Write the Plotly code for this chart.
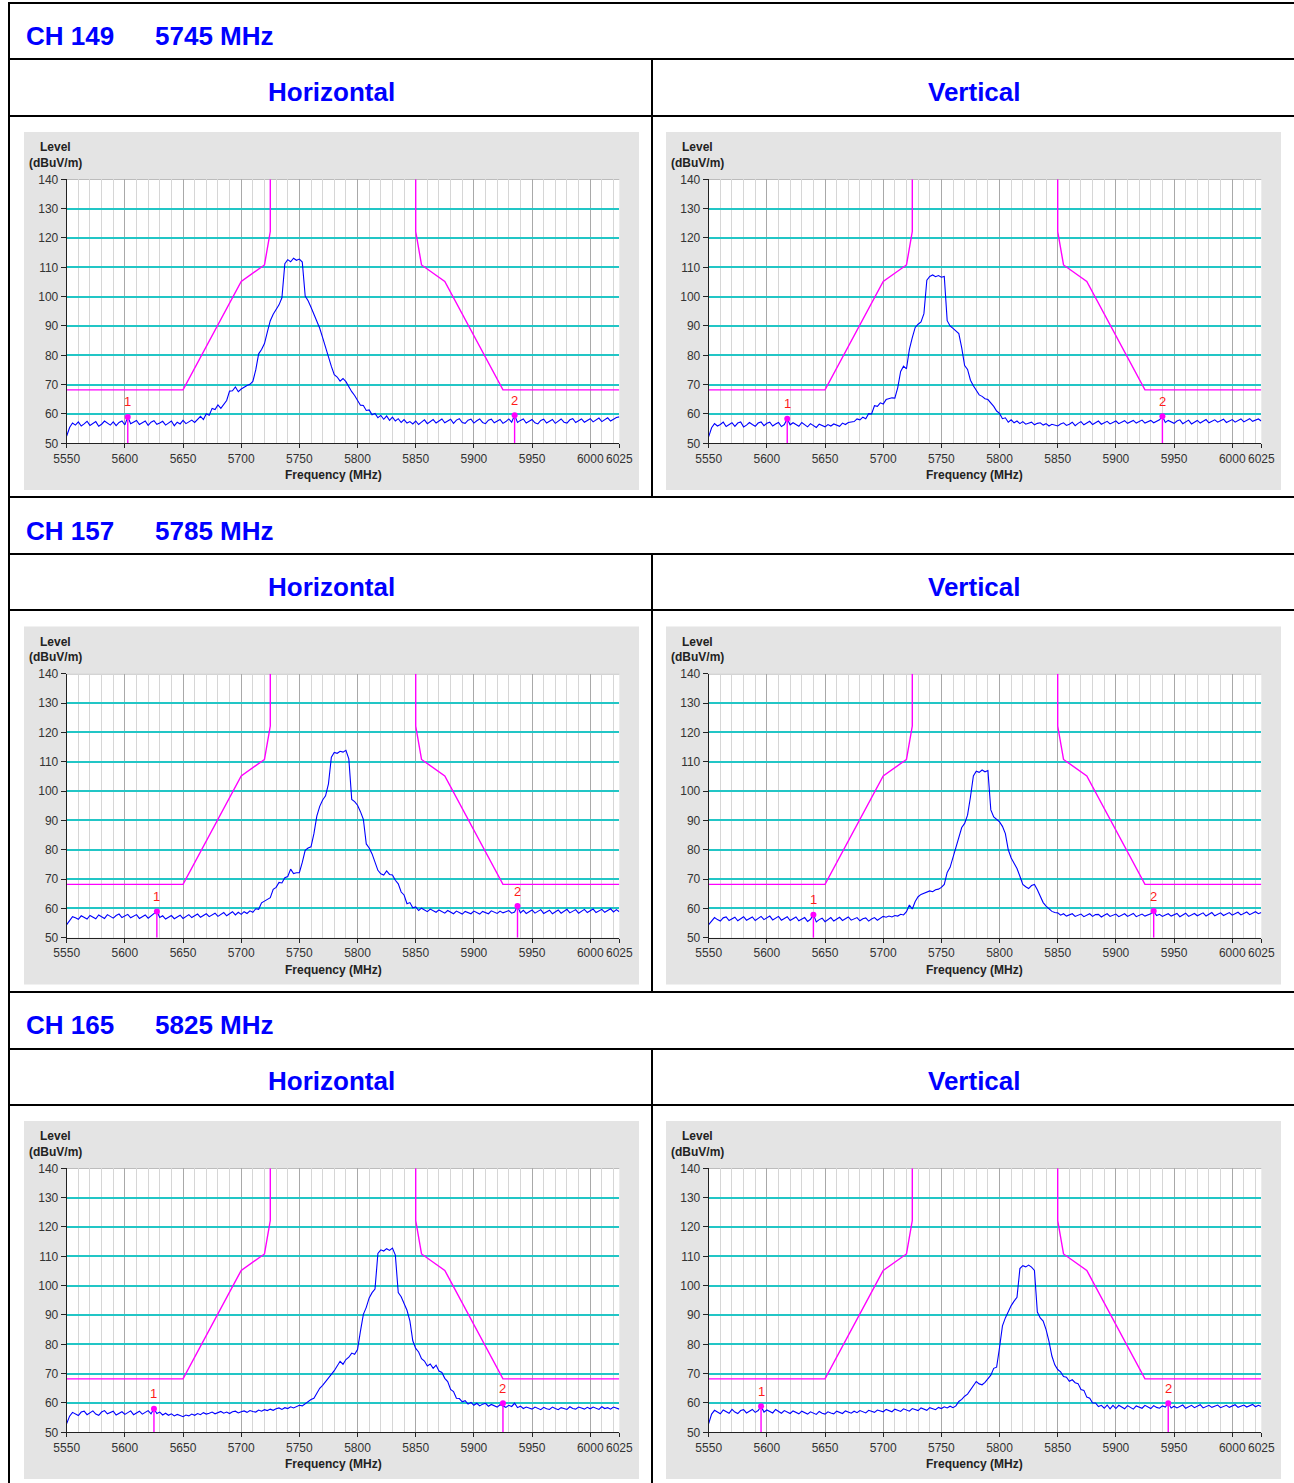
import plotly.graph_objects as go

W, H = 1294, 1483
FONT = "Arial, 'Liberation Sans', sans-serif"

# ---------------- data ----------------
FREQ_START = 5550.0
FREQ_STEP = 2.5
FREQ = [FREQ_START + FREQ_STEP * i for i in range(191)]

CHANNELS = ["CH 149", "CH 157", "CH 165"]
CENTERS = ["5745 MHz", "5785 MHz", "5825 MHz"]
POLARIZATIONS = ["Horizontal", "Vertical"]

X_TICKS = [5550, 5600, 5650, 5700, 5750, 5800, 5850, 5900, 5950, 6000, 6025]
Y_TICKS = [50, 60, 70, 80, 90, 100, 110, 120, 130, 140]

MASK_FREQ = [5550, 5650, 5700, 5720, 5725, 5725, None, 5850, 5850, 5855, 5875, 5925, 6025]
MASK_LEVEL = [68.2, 68.2, 105.2, 110.8, 122.2, 140, None, 140, 122.2, 110.8, 105.2, 68.2, 68.2]

CH149_H = [
    52.5, 55.4, 56.9, 56.2, 57.3, 55.9, 56.6, 57.5, 56.1, 56.8, 57.4, 55.8, 56.5, 57.6, 56.9, 56.2, 57.3, 56.0, 57.1, 57.6,
    56.3, 59.0, 56.7, 57.4, 57.8, 56.4, 56.9, 57.6, 56.1, 57.2, 57.7, 56.5, 56.9, 57.5, 56.2, 56.8, 57.6, 56.0, 57.2, 56.6,
    57.8, 56.7, 57.3, 57.9, 57.1, 58.3, 59.2, 58.1, 60.1, 59.6, 61.9, 61.5, 63.1, 61.9, 63.3, 64.6, 67.8, 67.9, 69.2, 67.6,
    68.5, 69.2, 69.7, 70.1, 71.1, 75.0, 80.5, 82.0, 84.0, 88.0, 91.8, 94.0, 95.6, 97.2, 99.6, 111.2, 112.6, 111.9, 113.1, 112.4,
    112.8, 111.8, 100.2, 98.6, 96.4, 94.2, 92.0, 89.2, 86.0, 82.6, 79.5, 76.2, 73.4, 72.6, 71.2, 72.1, 71.0, 69.2, 67.6, 66.3,
    64.8, 63.0, 62.9, 61.2, 61.4, 59.7, 60.2, 58.7, 59.5, 58.2, 59.3, 57.8, 58.9, 57.6, 58.4, 57.1, 58.1, 56.9, 57.4, 56.6,
    57.6, 56.4, 57.2, 58.0, 56.7, 57.4, 58.1, 56.9, 57.7, 58.3, 57.0, 57.5, 58.2, 56.8, 57.9, 58.4, 57.1, 56.8, 57.9, 58.2,
    56.9, 57.7, 58.3, 57.1, 56.7, 57.9, 58.2, 57.0, 57.6, 58.1, 56.8, 57.4, 58.3, 57.2, 59.6, 57.1, 57.8, 58.3, 56.9, 57.6,
    58.1, 57.0, 56.6, 57.8, 58.2, 56.9, 57.5, 58.1, 56.8, 57.7, 58.3, 57.2, 56.9, 58.0, 58.4, 57.1, 57.6, 58.3, 57.2, 57.9,
    58.4, 57.3, 57.9, 58.6, 57.4, 58.2, 58.7, 57.6, 58.3, 58.8, 59.0,
]

CH149_V = [
    52.3, 55.3, 56.7, 55.9, 56.4, 57.2, 55.7, 56.5, 57.0, 55.8, 56.9, 57.3, 55.6, 56.2, 57.1, 56.4, 55.8, 56.9, 57.3, 56.0,
    56.8, 57.2, 55.9, 56.6, 57.1, 55.7, 56.4, 58.4, 56.3, 57.0, 56.5, 55.8, 57.1, 56.2, 55.6, 56.7, 56.1, 55.4, 56.5, 56.0,
    55.6, 56.4, 55.9, 56.6, 56.2, 55.8, 56.9, 56.4, 57.1, 57.3, 57.4, 58.3, 58.0, 58.9, 58.4, 60.1, 60.0, 62.8, 62.6, 63.8,
    63.4, 64.9, 65.2, 65.5, 65.4, 69.0, 74.5, 76.3, 75.4, 82.0, 86.0, 89.5, 90.6, 91.4, 94.2, 105.6, 106.9, 107.4, 106.8, 107.2,
    106.6, 106.9, 91.8, 90.0, 89.2, 88.4, 87.4, 82.5, 76.5, 75.2, 71.5, 69.6, 68.2, 66.5, 66.0, 65.2, 64.9, 63.8, 62.6, 61.0,
    60.2, 58.4, 58.7, 57.2, 58.0, 57.0, 57.6, 56.7, 57.4, 56.5, 56.9, 57.2, 56.3, 56.8, 57.0, 56.2, 56.7, 55.9, 56.5, 56.3,
    55.9, 56.6, 57.0, 56.1, 56.5, 57.2, 56.0, 56.8, 57.4, 56.3, 56.9, 57.5, 56.4, 57.1, 57.6, 56.5, 57.0, 57.5, 56.6, 57.2,
    57.6, 56.7, 57.2, 57.7, 56.8, 57.3, 57.8, 56.9, 57.5, 57.9, 56.9, 57.4, 57.8, 57.0, 57.6, 58.0, 59.2, 57.1, 57.8, 57.3,
    56.8, 57.6, 58.0, 56.7, 57.3, 57.9, 56.6, 57.2, 57.8, 56.9, 57.5, 58.1, 57.0, 57.4, 58.0, 57.2, 57.7, 58.2, 57.1, 57.6,
    58.1, 57.2, 57.8, 58.3, 57.3, 57.9, 58.4, 57.5, 57.9, 58.3, 57.6,
]

CH157_H = [
    54.5, 56.0, 57.2, 56.8, 56.3, 57.5, 56.9, 56.4, 57.6, 57.1, 56.5, 57.8, 57.2, 56.6, 57.9, 57.3, 56.7, 57.6, 58.1, 56.9,
    57.4, 58.0, 56.8, 57.3, 57.9, 56.6, 57.2, 57.8, 56.7, 57.4, 58.0, 59.0, 56.9, 57.5, 56.4, 57.0, 57.6, 56.5, 57.1, 57.7,
    56.6, 57.3, 57.9, 56.9, 57.6, 58.1, 57.0, 57.7, 58.2, 57.2, 57.9, 58.4, 57.3, 58.0, 58.6, 57.5, 58.2, 58.9, 57.8, 58.7,
    58.0, 58.9, 58.3, 59.2, 58.7, 59.9, 59.7, 61.9, 62.5, 63.1, 63.7, 66.5, 67.2, 68.9, 68.7, 70.5, 70.9, 73.4, 71.9, 72.2,
    72.2, 75.7, 79.8, 80.6, 81.0, 85.5, 91.5, 94.8, 97.0, 98.4, 102.5, 111.6, 113.2, 112.9, 113.6, 113.3, 113.9, 111.0, 97.2, 96.4,
    95.2, 93.0, 90.4, 82.0, 80.6, 78.6, 75.7, 73.0, 71.8, 71.4, 72.8, 71.6, 71.4, 69.6, 68.4, 65.6, 64.6, 61.6, 62.0, 60.2,
    60.5, 59.3, 60.1, 59.6, 58.9, 59.8, 59.2, 58.7, 59.5, 58.9, 58.4, 59.3, 58.7, 58.2, 59.1, 58.6, 58.1, 59.0, 58.5, 58.2,
    59.1, 58.5, 58.1, 59.0, 58.6, 58.2, 59.2, 58.7, 58.3, 59.1, 58.5, 58.9, 59.3, 58.4, 58.8, 60.8, 58.5, 59.4, 58.3, 58.9,
    59.5, 58.4, 58.9, 59.6, 58.3, 59.0, 59.4, 58.2, 58.9, 59.5, 58.4, 59.1, 59.7, 58.5, 59.0, 59.6, 58.4, 59.2, 59.7, 58.6,
    59.3, 59.8, 58.6, 59.2, 59.7, 58.7, 59.4, 59.9, 58.8, 59.6, 58.9,
]

CH157_V = [
    54.5, 55.6, 56.9, 56.2, 55.7, 56.8, 57.1, 55.9, 56.4, 57.0, 55.8, 56.6, 57.2, 56.0, 56.5, 57.1, 55.9, 56.7, 57.3, 56.2,
    56.7, 57.4, 56.1, 56.8, 57.3, 56.0, 56.6, 57.2, 55.9, 56.5, 57.1, 55.8, 56.4, 56.9, 55.6, 56.3, 57.9, 55.4, 56.2, 56.7,
    55.5, 56.3, 56.9, 55.7, 56.5, 57.0, 55.9, 56.6, 57.1, 56.0, 56.4, 56.9, 55.8, 56.5, 56.8, 55.7, 56.4, 56.9, 56.0, 56.7,
    57.3, 57.0, 57.4, 57.1, 57.6, 57.4, 58.0, 57.8, 58.9, 61.2, 59.8, 62.4, 64.0, 64.8, 65.2, 65.4, 66.0, 65.7, 66.4, 66.6,
    67.2, 68.2, 72.3, 74.0, 77.5, 80.8, 85.0, 87.6, 89.0, 91.8, 98.0, 105.2, 106.8, 106.4, 107.2, 106.6, 107.0, 93.6, 91.2, 90.4,
    89.5, 88.0, 85.5, 80.0, 77.2, 75.4, 73.6, 71.0, 68.2, 67.4, 66.8, 67.8, 68.2, 66.4, 64.0, 62.0, 60.8, 59.8, 59.0, 58.6,
    58.5, 57.7, 58.2, 57.4, 57.9, 58.2, 57.3, 57.8, 58.1, 57.2, 57.6, 58.2, 57.3, 57.9, 58.0, 57.1, 57.7, 58.2, 57.3, 57.8,
    58.1, 57.2, 57.7, 58.2, 57.3, 57.9, 58.3, 57.2, 57.6, 58.1, 57.4, 57.9, 58.2, 59.1, 57.6, 58.0, 57.3, 57.8, 58.2, 57.4,
    57.8, 58.3, 57.2, 57.9, 58.4, 57.3, 57.7, 58.3, 57.5, 57.9, 58.5, 57.4, 58.0, 58.6, 57.5, 58.1, 58.5, 57.6, 58.2, 58.6,
    57.7, 58.3, 58.7, 57.8, 58.4, 58.8, 57.9, 58.5, 58.9, 58.2, 58.6,
]

CH165_H = [
    53.0, 55.5, 56.8, 56.1, 55.7, 56.9, 57.2, 56.0, 56.6, 57.3, 56.2, 55.8, 56.9, 57.4, 56.3, 56.8, 57.2, 55.9, 56.6, 57.0,
    56.1, 56.7, 57.3, 56.0, 56.6, 57.2, 56.2, 56.9, 57.4, 56.3, 58.0, 56.4, 56.9, 55.9, 56.5, 55.8, 56.3, 55.6, 56.1, 55.7,
    55.3, 55.9, 55.6, 56.2, 55.8, 56.4, 56.0, 56.7, 56.2, 56.5, 56.9, 56.3, 56.8, 57.1, 56.5, 56.9, 56.4, 57.0, 57.2, 56.6,
    57.0, 57.3, 56.8, 57.4, 57.1, 56.9, 57.6, 57.2, 57.7, 57.4, 57.9, 57.5, 58.0, 58.3, 57.8, 58.4, 58.1, 58.7, 58.3, 58.9,
    59.2, 59.0, 59.8, 60.4, 61.2, 61.6, 63.2, 65.0, 66.0, 67.3, 68.2, 69.6, 71.0, 72.6, 74.2, 73.2, 74.8, 75.6, 77.0, 76.6,
    78.2, 84.5, 90.2, 92.6, 95.8, 97.6, 98.8, 111.0, 112.2, 111.8, 112.6, 112.0, 112.8, 110.4, 97.6, 96.2, 93.8, 91.6, 88.0, 81.2,
    78.6, 77.4, 75.1, 74.3, 72.6, 73.3, 71.8, 72.9, 70.9, 70.4, 68.4, 67.3, 64.6, 63.9, 61.6, 61.5, 60.4, 60.8, 59.6, 60.2,
    59.2, 59.9, 59.0, 59.6, 59.9, 58.9, 59.5, 59.1, 58.6, 59.4, 59.0, 58.5, 59.2, 58.8, 59.9, 58.4, 58.9, 58.1, 58.6, 58.3,
    57.9, 58.6, 58.2, 57.7, 58.5, 58.0, 57.8, 58.6, 58.1, 57.7, 58.4, 58.2, 57.8, 58.7, 58.1, 57.9, 58.6, 58.3, 57.9, 58.5,
    58.0, 58.6, 58.2, 57.8, 58.7, 58.1, 58.4, 57.9, 58.6, 58.3, 57.9,
]

CH165_V = [
    53.0, 56.2, 57.5, 56.8, 56.3, 57.6, 57.0, 56.5, 57.8, 56.9, 56.4, 57.4, 57.7, 56.6, 57.2, 57.8, 56.8, 57.4, 58.9, 56.9,
    57.6, 57.1, 56.6, 57.8, 57.2, 56.5, 57.4, 57.0, 56.4, 57.3, 56.8, 56.3, 57.2, 56.7, 56.2, 57.0, 56.6, 56.1, 57.1, 56.5,
    56.2, 57.0, 56.6, 56.3, 57.2, 56.8, 56.4, 57.3, 56.9, 56.5, 57.2, 56.7, 57.4, 57.0, 56.6, 57.5, 57.1, 56.8, 57.6, 57.2,
    57.0, 57.8, 57.3, 57.0, 57.9, 57.4, 57.1, 58.0, 57.6, 57.2, 58.1, 57.7, 57.4, 58.3, 57.8, 57.5, 58.4, 58.0, 57.7, 58.5,
    58.1, 58.7, 58.3, 58.9, 58.4, 59.0, 60.5, 61.2, 62.3, 63.0, 64.5, 66.0, 67.3, 66.5, 66.2, 67.0, 68.4, 69.5, 71.8, 72.2,
    78.9, 86.3, 89.0, 91.4, 93.2, 94.7, 96.0, 105.8, 106.8, 106.4, 107.0, 106.3, 105.2, 91.0, 89.0, 87.9, 85.0, 81.0, 76.0, 73.0,
    71.4, 70.6, 69.0, 68.8, 67.4, 67.9, 66.9, 66.6, 64.6, 64.3, 62.0, 61.6, 60.0, 60.0, 58.8, 59.2, 58.2, 59.3, 58.0, 59.2,
    58.1, 59.2, 58.6, 58.0, 59.1, 58.5, 57.9, 59.0, 58.6, 58.2, 59.2, 58.7, 58.1, 59.1, 58.5, 58.2, 59.0, 58.6, 59.9, 58.3,
    58.9, 58.3, 58.8, 59.3, 58.2, 58.7, 59.2, 58.4, 58.9, 59.4, 58.3, 58.8, 59.2, 58.5, 58.9, 59.3, 58.4, 58.8, 59.2, 58.5,
    58.9, 59.4, 58.5, 59.0, 59.3, 58.6, 59.1, 59.5, 58.7, 59.2, 58.8,
]

# panel order: 149H, 149V, 157H, 157V, 165H, 165V
LEVELS = [CH149_H, CH149_V, CH157_H, CH157_V, CH165_H, CH165_V]
M1_FREQ = [5602.5, 5617.5, 5627.5, 5640.0, 5625.0, 5595.0]
M1_LEVEL = [59.0, 58.4, 59.0, 57.9, 58.0, 58.9]
M2_FREQ = [5935.0, 5940.0, 5937.5, 5932.5, 5925.0, 5945.0]
M2_LEVEL = [59.6, 59.2, 60.8, 59.1, 59.9, 59.9]

# ---------------- geometry (pixels) ----------------
DX = [0, 642]
DY = [0, 494.5, 989]
PLOT_L, PLOT_R, PLOT_T, PLOT_B = 66.7, 619.3, 179.3, 443.3
PANEL_L, PANEL_R, PANEL_T, PANEL_B = 24, 639, 132, 490
TABLE_L, COL_X = 9, 652
HLINES = [3, 59, 116, 497, 554, 610, 992, 1049, 1105]
HEAD_DY = [0, 495, 989]


def fx(x):
    return x / W


def fy(y):
    return 1 - y / H


fig = go.Figure()
shapes = []
annotations = []
layout = {}

BLUE = "#0000ff"
MAGENTA = "#ff00ff"

for r in range(3):
    for c in range(2):
        k = r * 2 + c + 1
        i = k - 1
        xs = "x" if k == 1 else f"x{k}"
        ys = "y" if k == 1 else f"y{k}"
        xa = "xaxis" if k == 1 else f"xaxis{k}"
        ya = "yaxis" if k == 1 else f"yaxis{k}"
        dx, dy = DX[c], DY[r]

        # gray panel and white plot area
        shapes.append(dict(type="rect", xref="paper", yref="paper", layer="below",
                           x0=fx(PANEL_L + dx), x1=fx(PANEL_R + dx), y0=fy(PANEL_B + dy), y1=fy(PANEL_T + dy),
                           fillcolor="#e4e4e4", line=dict(width=0)))
        shapes.append(dict(type="rect", xref="paper", yref="paper", layer="below",
                           x0=fx(PLOT_L + dx), x1=fx(PLOT_R + dx), y0=fy(PLOT_B + dy), y1=fy(PLOT_T + dy),
                           fillcolor="white", line=dict(width=0)))

        layout[xa] = dict(
            domain=[fx(PLOT_L + dx), fx(PLOT_R + dx)], range=[5550, 6025], anchor=ys,
            automargin=False,
            tickmode="array", tickvals=X_TICKS, ticktext=[str(v) for v in X_TICKS], tickangle=0,
            showgrid=True, gridcolor="#a9a9a9", gridwidth=1.2,
            minor=dict(tickmode="linear", tick0=5550, dtick=10, showgrid=True,
                       gridcolor="#d6d6d6", gridwidth=1.1, ticks=""),
            showline=True, linecolor="#222222", linewidth=1,
            ticks="outside", ticklen=4, tickcolor="#222222", tickwidth=1,
            tickfont=dict(family=FONT, size=12, color="#333333"),
            zeroline=False, fixedrange=True)
        layout[ya] = dict(
            domain=[fy(PLOT_B + dy), fy(PLOT_T + dy)], range=[50, 140], anchor=xs,
            automargin=False,
            tickmode="array", tickvals=Y_TICKS, ticktext=[str(v) for v in Y_TICKS],
            showgrid=True, gridcolor="#22c6c6", gridwidth=1.5,
            showline=True, linecolor="#222222", linewidth=1,
            ticks="outside", ticklen=5, tickcolor="#222222", tickwidth=1,
            tickfont=dict(family=FONT, size=12, color="#333333"),
            zeroline=False, fixedrange=True)

        # top frame line (gray)
        shapes.append(dict(type="line", xref=f"{xs} domain", yref=ys, x0=0, x1=1, y0=140, y1=140,
                           line=dict(color="#a9a9a9", width=1.2), layer="below"))

        # spectrum trace
        vals = LEVELS[i]
        fig.add_trace(go.Scatter(x=FREQ[:len(vals)], y=vals, mode="lines",
                                 line=dict(color=BLUE, width=1.1), xaxis=xs, yaxis=ys,
                                 showlegend=False, hoverinfo="skip"))
        # limit mask
        fig.add_trace(go.Scatter(x=MASK_FREQ, y=MASK_LEVEL, mode="lines", connectgaps=False,
                                 line=dict(color=MAGENTA, width=1.4), xaxis=xs, yaxis=ys,
                                 showlegend=False, hoverinfo="skip"))
        # markers
        for n, (mf, ml) in enumerate([(M1_FREQ[i], M1_LEVEL[i]), (M2_FREQ[i], M2_LEVEL[i])], start=1):
            fig.add_trace(go.Scatter(x=[mf, mf], y=[50, ml], mode="lines",
                                     line=dict(color=MAGENTA, width=1.4), xaxis=xs, yaxis=ys,
                                     showlegend=False, hoverinfo="skip"))
            fig.add_trace(go.Scatter(x=[mf], y=[ml], mode="markers",
                                     marker=dict(color=MAGENTA, size=6), xaxis=xs, yaxis=ys,
                                     showlegend=False, hoverinfo="skip"))
            annotations.append(dict(x=mf, y=ml, xref=xs, yref=ys, text=str(n), showarrow=False,
                                    yshift=15, font=dict(family=FONT, size=13, color="#ff1a1a")))

        # panel texts
        annotations.append(dict(x=fx(55 + dx), y=fy(147 + dy), xref="paper", yref="paper", text="<b>Level</b>",
                                showarrow=False, xanchor="center", yanchor="middle",
                                font=dict(family=FONT, size=12, color="#222222")))
        annotations.append(dict(x=fx(55 + dx), y=fy(163 + dy), xref="paper", yref="paper", text="<b>(dBuV/m)</b>",
                                showarrow=False, xanchor="center", yanchor="middle",
                                font=dict(family=FONT, size=12, color="#222222")))
        annotations.append(dict(x=fx(333 + dx), y=fy(475 + dy), xref="paper", yref="paper",
                                text="<b>Frequency (MHz)</b>", showarrow=False, xanchor="center", yanchor="middle",
                                font=dict(family=FONT, size=12, color="#222222")))

# table headers
for r in range(3):
    hd = HEAD_DY[r]
    annotations.append(dict(x=fx(24), y=fy(36 + hd), xref="paper", yref="paper", text=f"<b>{CHANNELS[r]}</b>",
                            showarrow=False, xanchor="left", yanchor="middle",
                            font=dict(family=FONT, size=26, color=BLUE)))
    annotations.append(dict(x=fx(153), y=fy(36 + hd), xref="paper", yref="paper", text=f"<b>{CENTERS[r]}</b>",
                            showarrow=False, xanchor="left", yanchor="middle",
                            font=dict(family=FONT, size=26, color=BLUE)))
    for c, (cx, name) in enumerate(zip([331, 974], POLARIZATIONS)):
        annotations.append(dict(x=fx(cx), y=fy(92 + hd), xref="paper", yref="paper", text=f"<b>{name}</b>",
                                showarrow=False, xanchor="center", yanchor="middle",
                                font=dict(family=FONT, size=26, color=BLUE)))

# table borders
for yv in HLINES:
    shapes.append(dict(type="line", xref="paper", yref="paper", x0=fx(TABLE_L - 1), x1=1.01,
                       y0=fy(yv), y1=fy(yv), line=dict(color="black", width=2), layer="above"))
shapes.append(dict(type="line", xref="paper", yref="paper", x0=fx(TABLE_L), x1=fx(TABLE_L),
                   y0=fy(HLINES[0]), y1=-0.01, line=dict(color="black", width=2), layer="above"))
for y0, y1 in [(59, 497), (554, 992), (1049, 1490)]:
    shapes.append(dict(type="line", xref="paper", yref="paper", x0=fx(COL_X), x1=fx(COL_X),
                       y0=fy(y0), y1=fy(y1), line=dict(color="black", width=2), layer="above"))

fig.update_layout(
    width=W, height=H, margin=dict(l=0, r=0, t=0, b=0, pad=0, autoexpand=False),
    paper_bgcolor="white", plot_bgcolor="rgba(0,0,0,0)",
    showlegend=False, shapes=shapes, annotations=annotations,
    **layout,
)

fig.write_html(
    "out.html",
    config={"responsive": False, "displayModeBar": False},
    post_script="document.body.style.margin='0';document.body.style.padding='0';"
                "document.body.style.overflow='hidden';"
                "document.documentElement.style.overflow='hidden';",
)
